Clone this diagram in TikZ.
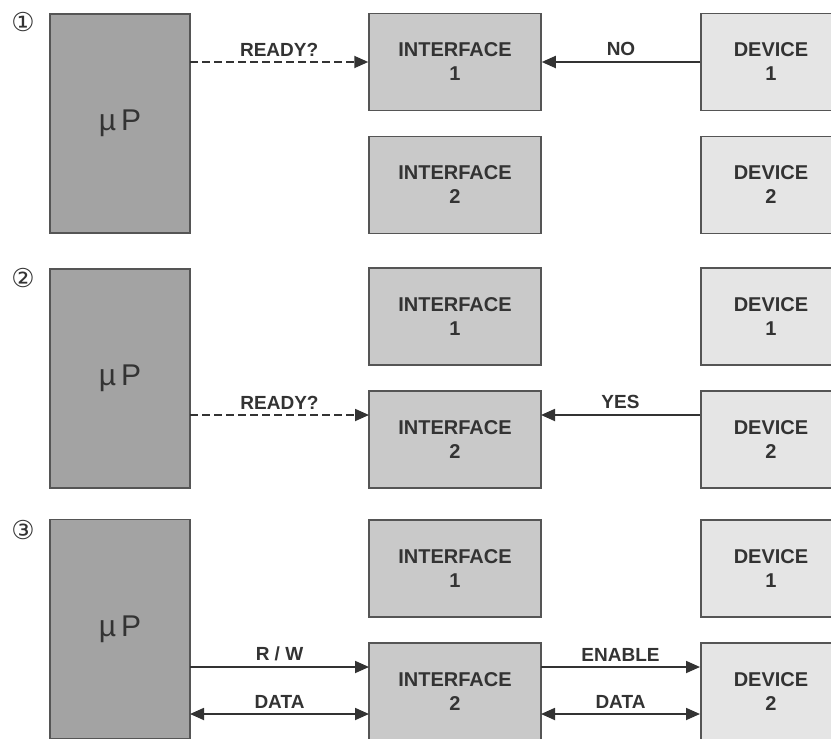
\documentclass[tikz,border=0pt]{standalone}
\usepackage{fontspec}
\setmainfont{Liberation Sans}
\newfontfamily\symfont{DejaVu Sans}
\usetikzlibrary{arrows.meta}
\definecolor{edgec}{HTML}{555555}
\definecolor{txtc}{HTML}{333333}
\definecolor{cpuc}{HTML}{A3A3A3}
\definecolor{ifc}{HTML}{C9C9C9}
\definecolor{devc}{HTML}{E5E5E5}
\tikzset{
  box/.style={draw=edgec, line width=1.5pt, inner sep=0pt, font=\bfseries\fontsize{20}{24}\selectfont, text=txtc, align=center},
  cpubox/.style={box, fill=cpuc, minimum width=140pt, minimum height=219pt},
  ifbox/.style={box, fill=ifc, minimum width=172pt, minimum height=97pt},
  devbox/.style={box, fill=devc, minimum width=140pt, minimum height=97pt},
  conn/.style={draw=txtc, line width=1.8pt, -{Triangle[length=14pt,width=12pt]}},
  biconn/.style={draw=txtc, line width=1.8pt, {Triangle[length=14pt,width=12pt]}-{Triangle[length=14pt,width=12pt]}},
  dconn/.style={conn, dash pattern=on 8pt off 4pt},
  lbl/.style={font=\bfseries\fontsize{19}{22}\selectfont, text=txtc, inner sep=0pt},
  num/.style={font=\symfont\fontsize{26}{26}\selectfont, text=txtc, inner sep=0pt},
  mutext/.style={font=\fontsize{30}{32}\selectfont}
}
\begin{document}
\begin{tikzpicture}[x=1pt,y=-1pt]
\useasboundingbox (0,0) rectangle (831,739);
\clip (0,0) rectangle (831,739);
% panel 1
\node[num] (n1) at (23,22) {①};
\node[cpubox] (cpu1) at (120,123.5) {};
\node[mutext, text=txtc] (mu1) at (cpu1.center) {µ\,P};
\node[ifbox] (if11) at (455,62) {INTERFACE\\1};
\node[ifbox] (if12) at (455,185) {INTERFACE\\2};
\node[devbox] (dev11) at (771,62) {DEVICE\\1};
\node[devbox] (dev12) at (771,185) {DEVICE\\2};
\coordinate (c1) at (190,62);
\draw[dconn] (c1) -- (if11.west) node[lbl, midway, above=5pt] (r1) {READY?};
\draw[conn] (dev11.west) -- (if11.east) node[lbl, midway, above=5pt] (no1) {NO};
% panel 2
\node[num] (n2) at (23,278) {②};
\node[cpubox] (cpu2) at (120,378.5) {};
\node[mutext, text=txtc] (mu2) at (cpu2.center) {µ\,P};
\node[ifbox] (if21) at (455,316.5) {INTERFACE\\1};
\node[ifbox] (if22) at (455,439.5) {INTERFACE\\2};
\node[devbox] (dev21) at (771,316.5) {DEVICE\\1};
\node[devbox] (dev22) at (771,439.5) {DEVICE\\2};
\coordinate (c2) at (190,415);
\coordinate (i2) at (369,415);
\coordinate (d2) at (700,415);
\coordinate (e2) at (541,415);
\draw[dconn] (c2) -- (i2) node[lbl, midway, above=5pt] (r2) {READY?};
\draw[conn] (d2) -- (e2) node[lbl, midway, above=5pt] (yes2) {YES};
% panel 3
\node[num] (n3) at (23,530) {③};
\node[cpubox] (cpu3) at (120,629) {};
\node[mutext, text=txtc] (mu3) at (cpu3.center) {µ\,P};
\node[ifbox] (if31) at (455,568.5) {INTERFACE\\1};
\node[ifbox] (if32) at (455,691.5) {INTERFACE\\2};
\node[devbox] (dev31) at (771,568.5) {DEVICE\\1};
\node[devbox] (dev32) at (771,691.5) {DEVICE\\2};
\coordinate (a1) at (190,667);
\coordinate (a2) at (369,667);
\coordinate (b1) at (190,714);
\coordinate (b2) at (369,714);
\coordinate (a3) at (541,667);
\coordinate (a4) at (700,667);
\coordinate (b3) at (541,714);
\coordinate (b4) at (700,714);
\draw[conn] (a1) -- (a2) node[lbl, midway, above=5pt] (rw) {R / W};
\draw[biconn] (b1) -- (b2) node[lbl, midway, above=5pt] (dt1) {DATA};
\draw[conn] (a3) -- (a4) node[lbl, midway, above=5pt] (en) {ENABLE};
\draw[biconn] (b3) -- (b4) node[lbl, midway, above=5pt] (dt2) {DATA};
\end{tikzpicture}
\end{document}
